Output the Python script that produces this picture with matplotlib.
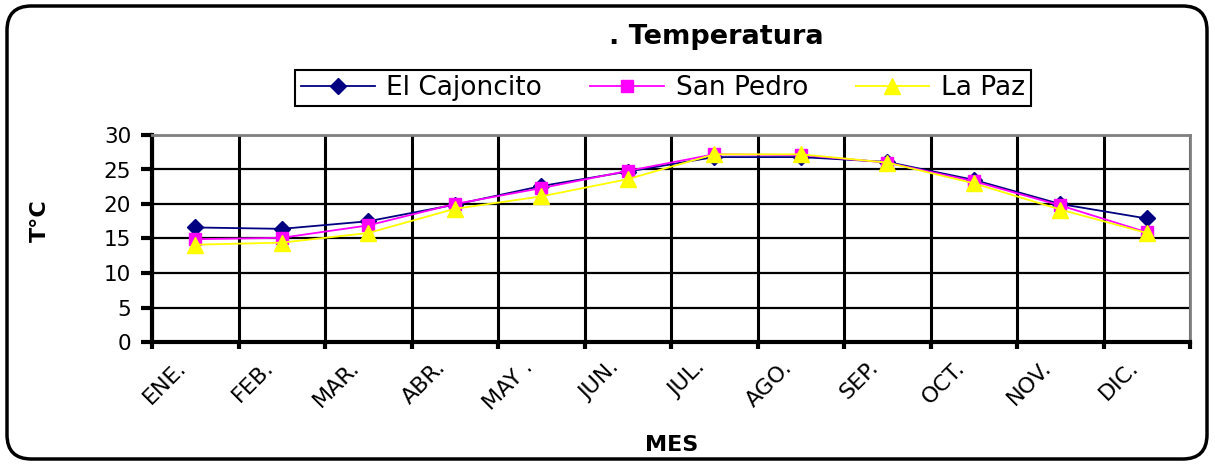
import matplotlib

matplotlib.use("Agg")
import matplotlib.pyplot as plt
from matplotlib.patches import FancyBboxPatch
from matplotlib.transforms import ScaledTranslation

plt.rcParams["font.family"] = ["DejaVu Sans"]

months = ["ENE.", "FEB.", "MAR.", "ABR.", "MAY .", "JUN.", "JUL.", "AGO.",
          "SEP.", "OCT.", "NOV.", "DIC."]
cajoncito = [16.6, 16.4, 17.5, 19.9, 22.6, 24.7, 26.8, 26.8, 26.1, 23.5, 20.0, 17.9]
san_pedro = [14.9, 15.1, 16.9, 20.0, 22.3, 24.8, 27.2, 27.1, 26.0, 23.3, 19.8, 15.9]
la_paz = [14.1, 14.4, 15.8, 19.3, 21.1, 23.6, 27.2, 27.2, 26.0, 23.0, 19.2, 15.8]
yticks = [0, 5, 10, 15, 20, 25, 30]

W, H = 1215, 465
fig = plt.figure(figsize=(W / 100, H / 100), dpi=100)
ax = fig.add_axes([152 / W, 1 - 342 / H, (1190 - 152) / W, (342 - 135) / H])

xs = [i + 0.5 for i in range(len(months))]
ax.plot(xs, cajoncito, color="#000080", lw=1.3, marker="D", ms=8,
        label="El Cajoncito", zorder=3)
ax.plot(xs, san_pedro, color="#FF00FF", lw=1.3, marker="s", ms=9,
        label="San Pedro", zorder=4)
ax.plot(xs, la_paz, color="#FFFF00", lw=1.3, marker="^", ms=11,
        label="La Paz", zorder=5)

ax.set_xlim(0, len(months))
ax.set_ylim(0, 30)
ax.set_yticks(yticks)
ax.set_xticks(range(len(months) + 1))
ax.set_xticklabels([])
ax.set_xticks(xs, minor=True)
ax.tick_params(axis="x", which="minor", length=0, pad=11)
ax.tick_params(axis="x", which="major", length=5, width=3, direction="out")
ax.tick_params(axis="y", length=8, width=3, direction="out", labelsize=15.5, pad=7)
ax.set_xticklabels(months, minor=True, rotation=45, ha="right",
                   rotation_mode="anchor", fontsize=16)
# labels sit a bit left of the category centre in the original
shift = ScaledTranslation(-0.19, 0, fig.dpi_scale_trans)
for lab in ax.get_xticklabels(minor=True):
    lab.set_transform(lab.get_transform() + shift)

ax.set_axisbelow(True)
ax.grid(True, which="major", axis="x", color="black", lw=2.2)
ax.grid(True, which="major", axis="y", color="black", lw=1.6)

for side in ("left", "bottom"):
    ax.spines[side].set_linewidth(3)
    ax.spines[side].set_color("black")
for side in ("top", "right"):
    ax.spines[side].set_linewidth(2)
    ax.spines[side].set_color("#808080")

fig.text(40 / W, 1 - 221 / H, "T°C", fontsize=16, fontweight="bold",
         rotation=90, ha="center", va="center")
fig.text(672 / W, 1 - 445 / H, "MES", fontsize=16, fontweight="bold",
         ha="center", va="center")
fig.text(716 / W, 1 - 37 / H, ". Temperatura", fontsize=19.5, fontweight="bold",
         ha="center", va="center")

fig.legend(loc="center", bbox_to_anchor=(663 / W, 1 - 88 / H), ncol=3,
           fontsize=19, frameon=True, fancybox=False, edgecolor="black",
           handlelength=2.8, handletextpad=0.45, columnspacing=1.8,
           borderpad=0.2, framealpha=1)
fig.legends[0].get_frame().set_linewidth(1.5)

border = FancyBboxPatch((7 / W, 6 / H), (W - 15) / W, (H - 12) / H,
                        boxstyle="round,pad=0,rounding_size=0.02",
                        transform=fig.transFigure, fill=False,
                        edgecolor="black", lw=2.5, mutation_aspect=W / H)
fig.patches.append(border)

fig.savefig("out.png", dpi=100)
